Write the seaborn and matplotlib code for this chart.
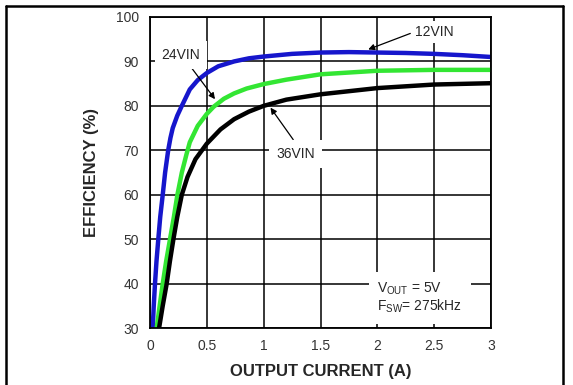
import numpy as np
import pandas as pd
import seaborn as sns
import matplotlib.pyplot as plt
from matplotlib.lines import Line2D

# readings
x_12 = [0.024, 0.033, 0.044, 0.057, 0.073, 0.09, 0.112, 0.133, 0.16, 0.18, 0.2, 0.24, 0.28,
        0.35, 0.42, 0.5, 0.6, 0.74, 0.87, 1.0, 1.25, 1.5, 1.75, 2.0, 2.25, 2.5, 2.75, 3.0]
y_12 = [30, 35, 40, 45, 50, 55, 60, 65, 70, 72.8, 75, 77.8, 80,
        83.7, 85.8, 87.4, 88.9, 90.0, 90.7, 91.1, 91.7, 92.0, 92.1, 92.0, 91.9, 91.7, 91.4, 91.0]

x_24 = [0.059, 0.085, 0.112, 0.142, 0.176, 0.21, 0.241, 0.28, 0.32, 0.35, 0.42, 0.5,
        0.56, 0.65, 0.74, 0.85, 1.0, 1.2, 1.5, 2.0, 2.5, 3.0]
y_24 = [30, 35, 40, 45, 50, 55, 60, 65, 69, 71.8, 75.5, 78.2,
        79.8, 81.6, 82.8, 83.9, 84.9, 85.9, 87.1, 87.9, 88.1, 88.1]

x_36 = [0.08, 0.112, 0.147, 0.175, 0.206, 0.24, 0.28, 0.33, 0.4, 0.5, 0.62, 0.74,
        0.87, 1.0, 1.2, 1.5, 2.0, 2.5, 3.0]
y_36 = [30, 35, 40, 45, 50, 55, 60, 64, 68, 71.5, 74.7, 77,
        78.7, 80, 81.4, 82.6, 84, 84.8, 85.1]

x_ticks = [0, 0.5, 1, 1.5, 2, 2.5, 3]
x_tick_labels = ["0", "0.5", "1", "1.5", "2", "2.5", "3"]
y_ticks = [30, 40, 50, 60, 70, 80, 90, 100]

sns.set_style("white")
plt.rcParams['font.family'] = ['Liberation Sans', 'DejaVu Sans']
plt.rcParams['mathtext.default'] = 'regular'

fig = plt.figure(figsize=(5.73, 3.85), dpi=100)
ax = fig.add_axes([150 / 573, 1 - 328 / 385, 341 / 573, 311 / 385])

ax.grid(True, color='black', linewidth=1.1)
ax.set_axisbelow(True)

sns.lineplot(x=x_12, y=y_12, ax=ax, color='#1616cc', linewidth=3.2, sort=False, estimator=None)
sns.lineplot(x=x_24, y=y_24, ax=ax, color='#33e633', linewidth=3.2, sort=False, estimator=None)
sns.lineplot(x=x_36, y=y_36, ax=ax, color='black', linewidth=3.2, sort=False, estimator=None)

ax.set_xlim(0, 3)
ax.set_ylim(30, 100)
ax.set_xticks(x_ticks)
ax.set_xticklabels(x_tick_labels)
ax.set_yticks(y_ticks)
ax.tick_params(length=0, labelsize=10, labelcolor='#333333', pad=8)
for s in ax.spines.values():
    s.set_color('black')
    s.set_linewidth(1.3)

ax.set_xlabel('OUTPUT CURRENT (A)', fontsize=12, fontweight='bold', labelpad=8)
ax.set_ylabel('EFFICIENCY (%)', fontsize=12, fontweight='bold', labelpad=12)

arrow = dict(arrowstyle='-|>', color='black', lw=0.9, mutation_scale=9, shrinkA=0, shrinkB=0)
box = dict(facecolor='white', edgecolor='none', pad=3)

ax.annotate('', xy=(1.92, 92.7), xytext=(2.29, 96.3), arrowprops=arrow)
ax.text(2.5, 96.6, '12VIN', ha='center', va='center', fontsize=10, bbox=box)

ax.annotate('', xy=(0.572, 81.5), xytext=(0.367, 88.5), arrowprops=arrow)
ax.text(0.273, 91.5, '24VIN', ha='center', va='center', fontsize=10,
        bbox=dict(facecolor='white', edgecolor='none', pad=5))

ax.annotate('', xy=(1.06, 79.6), xytext=(1.26, 72.4), arrowprops=arrow)
ax.text(1.28, 69.2, '36VIN', ha='center', va='center', fontsize=10,
        bbox=dict(facecolor='white', edgecolor='none', pad=5))

ax.text(2.0, 36.8, 'V$_{OUT}$ = 5V\nF$_{SW}$= 275kHz', ha='left', va='center',
        fontsize=10, linespacing=1.1,
        bbox=dict(facecolor='white', edgecolor='none', pad=6))

# outer frame of the datasheet figure
W, H = 573, 385
for xs, ys in [((6 / W, 563 / W), (1 - 6 / H, 1 - 6 / H)),
               ((6 / W, 6 / W), (0, 1 - 6 / H)),
               ((563 / W, 563 / W), (0, 1 - 6 / H))]:
    fig.add_artist(Line2D(xs, ys, color='black', linewidth=1.8, transform=fig.transFigure))

fig.savefig('out.png', dpi=100)
